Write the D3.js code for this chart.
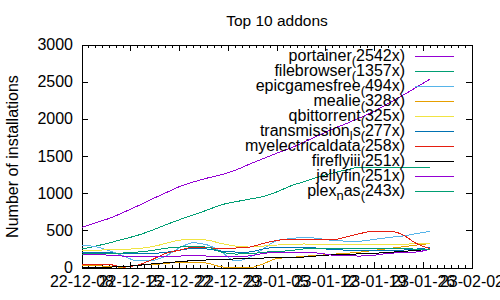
<!DOCTYPE html>
<html>
<head>
<meta charset="utf-8">
<script src="https://cdn.jsdelivr.net/npm/d3@7"></script>
<style>
  body { margin: 0; background: #fff; }
  text { font-family: "Liberation Sans", Arial, sans-serif; font-size: 16px; fill: #000; }
</style>
</head>
<body>
<script>
var width = 500, height = 300;
var plotLeft = 82, plotRight = 472, plotTop = 45, plotBottom = 268;

// sampled every second day, 2022-12-08 .. 2023-01-27
var dates = ["2022-12-08", "2022-12-10", "2022-12-12", "2022-12-14", "2022-12-16", "2022-12-18",
  "2022-12-20", "2022-12-22", "2022-12-24", "2022-12-26", "2022-12-28", "2022-12-30",
  "2023-01-01", "2023-01-03", "2023-01-05", "2023-01-07", "2023-01-09", "2023-01-11",
  "2023-01-13", "2023-01-15", "2023-01-17", "2023-01-19", "2023-01-21", "2023-01-23",
  "2023-01-25", "2023-01-27"];

var names = ["portainer", "filebrowser", "epicgamesfree", "mealie", "qbittorrent",
  "transmission_ls", "myelectricaldata", "fireflyiii", "jellyfin", "plex_nas"];
var totals = [2542, 1357, 494, 328, 325, 277, 258, 251, 251, 243];
var colors = ["#9400d3", "#009e73", "#56b4e9", "#e69f00", "#f0e442",
  "#0072b2", "#e51e10", "#000000", "#9400d3", "#009e73"];

var portainer = [545, 610, 670, 750, 835, 925, 1010, 1095, 1157, 1210, 1255, 1315, 1395,
  1470, 1545, 1614, 1700, 1785, 1870, 1945, 2025, 2110, 2215, 2320, 2430, 2542];
var filebrowser = [255, 295, 340, 390, 440, 505, 580, 650, 715, 780, 850, 890, 925,
  960, 1025, 1105, 1165, 1225, 1278, 1320, 1357, 1357, 1357, 1357, 1357, 1357];
var epicgamesfree = [309, 285, 230, 160, 95, 100, 160, 270, 340, 310, 220, 95, 140,
  255, 370, 395, 415, 395, 370, 362, 362, 385, 410, 430, 462, 494];
var mealie = [27, 30, 20, 10, 40, 45, 60, 80, 78, 65, 15, 3, 2,
  55, 128, 142, 158, 170, 185, 198, 215, 238, 262, 285, 308, 328];
var qbittorrent = [235, 240, 245, 250, 262, 285, 330, 375, 388, 375, 330, 296, 282,
  295, 309, 318, 323, 312, 315, 318, 320, 320, 322, 322, 324, 325];
var transmission = [205, 202, 202, 200, 190, 195, 210, 240, 262, 255, 228, 215, 215,
  255, 280, 282, 282, 265, 248, 240, 230, 229, 229, 240, 255, 277];
var myelectricaldata = [40, 50, 45, 12, 40, 110, 195, 240, 280, 275, 258, 268, 280,
  330, 370, 390, 390, 380, 378, 420, 465, 497, 497, 450, 330, 258];
var fireflyiii = [5, 8, 12, 20, 35, 55, 70, 85, 100, 108, 115, 122, 130,
  134, 140, 145, 148, 165, 178, 185, 190, 198, 210, 222, 238, 251];
var jellyfin = [185, 180, 172, 160, 150, 148, 150, 160, 172, 160, 150, 155, 162,
  195, 212, 215, 210, 200, 172, 165, 161, 172, 198, 205, 215, 251];
var plexNas = [188, 192, 197, 202, 215, 235, 265, 282, 292, 280, 215, 188, 190,
  212, 222, 235, 258, 268, 269, 269, 269, 269, 269, 269, 250, 243];

var series = [portainer, filebrowser, epicgamesfree, mealie, qbittorrent,
  transmission, myelectricaldata, fireflyiii, jellyfin, plexNas];

var parse = d3.utcParse("%Y-%m-%d");
var x = d3.scaleUtc()
    .domain([parse("2022-12-08"), parse("2023-02-02")])
    .range([plotLeft, plotRight]);
var y = d3.scaleLinear().domain([0, 3000]).range([plotBottom, plotTop]);

var svg = d3.select("body").append("svg")
    .attr("width", width)
    .attr("height", height);

// title
svg.append("text")
    .attr("x", (plotLeft + plotRight) / 2)
    .attr("y", 26)
    .attr("text-anchor", "middle")
    .style("font-size", "15.5px")
    .text("Top 10 addons");

// y label
svg.append("text")
    .attr("transform", "translate(18," + (plotTop + plotBottom) / 2 + ")rotate(-90)")
    .attr("text-anchor", "middle")
    .text("Number of installations");

var axes = svg.append("g")
    .attr("stroke", "#000")
    .attr("shape-rendering", "crispEdges");

// y ticks, mirrored on the right
y.ticks(6).forEach(function (v) {
  axes.append("line").attr("x1", plotLeft).attr("x2", plotLeft + 6).attr("y1", y(v)).attr("y2", y(v));
  axes.append("line").attr("x1", plotRight).attr("x2", plotRight - 6).attr("y1", y(v)).attr("y2", y(v));
  svg.append("text")
      .attr("x", plotLeft - 9)
      .attr("y", y(v) + 5)
      .attr("text-anchor", "end")
      .text(v);
});

// x minor (days) and major (weeks) ticks, mirrored on top
x.ticks(d3.utcDay).forEach(function (d) {
  axes.append("line").attr("x1", x(d)).attr("x2", x(d)).attr("y1", plotBottom).attr("y2", plotBottom - 3);
  axes.append("line").attr("x1", x(d)).attr("x2", x(d)).attr("y1", plotTop).attr("y2", plotTop + 3);
});
var fmt = d3.utcFormat("%y-%m-%d");
x.ticks(d3.utcThursday).forEach(function (d) {
  axes.append("line").attr("x1", x(d)).attr("x2", x(d)).attr("y1", plotBottom).attr("y2", plotBottom - 6);
  axes.append("line").attr("x1", x(d)).attr("x2", x(d)).attr("y1", plotTop).attr("y2", plotTop + 6);
  svg.append("text")
      .attr("x", x(d))
      .attr("y", 287)
      .attr("text-anchor", "middle")
      .text(fmt(d));
});

axes.append("rect")
    .attr("x", plotLeft).attr("y", plotTop)
    .attr("width", plotRight - plotLeft).attr("height", plotBottom - plotTop)
    .attr("fill", "none");

var line = d3.line()
    .x(function (d, i) { return x(parse(dates[i])); })
    .y(function (d) { return y(d); })
    .curve(d3.curveMonotoneX);

// gnuplot enhanced text: "_" lowers the next character
function addLabel(sel, str) {
  var parts = str.split("_");
  sel.append("tspan").text(parts[0]);
  parts.slice(1).forEach(function (p) {
    sel.append("tspan").attr("dy", 4).attr("font-size", "13px").text(p.charAt(0));
    sel.append("tspan").attr("dy", -4).text(p.slice(1));
  });
}

series.forEach(function (vals, k) {
  svg.append("path")
      .attr("d", line(vals))
      .attr("fill", "none")
      .attr("stroke", colors[k])
      .attr("stroke-width", 1)
      .attr("shape-rendering", "crispEdges");

  var ly = 56 + k * 15;
  var t = svg.append("text")
      .attr("x", 405)
      .attr("y", ly + 5)
      .attr("text-anchor", "end");
  addLabel(t, names[k] + "_(" + totals[k] + "x)");
  svg.append("line")
      .attr("x1", 415).attr("x2", 454)
      .attr("y1", ly).attr("y2", ly)
      .attr("stroke", colors[k])
      .attr("shape-rendering", "crispEdges");
});
</script>
</body>
</html>
